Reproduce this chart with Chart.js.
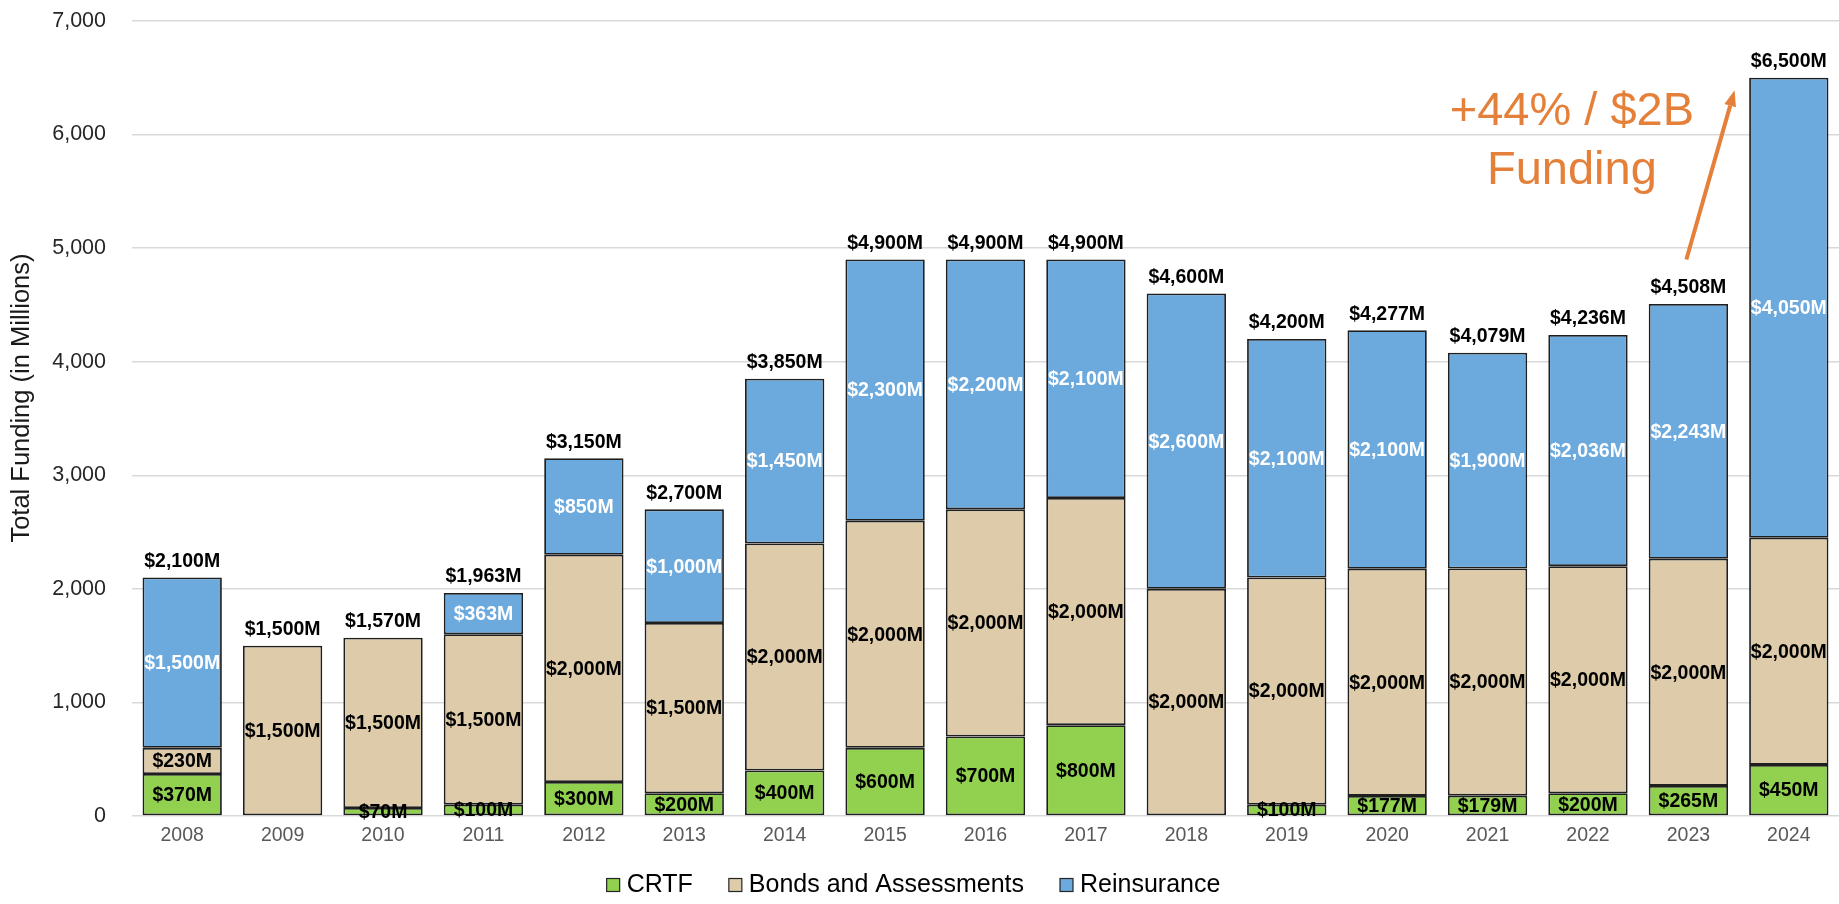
<!DOCTYPE html>
<html>
<head>
<meta charset="utf-8">
<script src="https://cdn.jsdelivr.net/npm/chart.js@4/dist/chart.umd.min.js"></script>
<style>
  html, body { margin: 0; padding: 0; background: #ffffff; }
  #wrap { width: 1839px; height: 904px; position: relative; }
</style>
</head>
<body>
<div id="wrap"><canvas id="c"></canvas></div>
<script>
// ---- Data ----
const categories = ['2008','2009','2010','2011','2012','2013','2014','2015','2016','2017','2018','2019','2020','2021','2022','2023','2024'];
const crtf        = [370, null, 70, 100, 300, 200, 400, 600, 700, 800, null, 100, 177, 179, 200, 265, 450];
const bonds       = [230, 1500, 1500, 1500, 2000, 1500, 2000, 2000, 2000, 2000, 2000, 2000, 2000, 2000, 2000, 2000, 2000];
const reinsurance = [1500, null, null, 363, 850, 1000, 1450, 2300, 2200, 2100, 2600, 2100, 2100, 1900, 2036, 2243, 4050];
const seriesNames = ['CRTF', 'Bonds and Assessments', 'Reinsurance'];
const yTickMax = 7000;
const yTickStep = 1000;
const yTitle = 'Total Funding (in Millions)';
const annotationLines = ['+44% / $2B', 'Funding'];
// annotation anchors in data coordinates (category index, value)
const annotationText = { x: 13.84, y1: 6087, y2: 5568 };
const annotationArrow = { x0: 14.98, y0: 4900, x1: 15.46, y1: 6390 };

// ---- Styles ----
const FONT = '"Liberation Sans", Arial, sans-serif';
const colors = ['#92D050', '#DDCBAA', '#6CA9DC'];
const labelColors = ['#000000', '#000000', '#FFFFFF'];
const ORANGE = '#E5803A';

const fmt = v => '$' + Number(v).toLocaleString('en-US') + 'M';

const labelPlugin = {
  id: 'labels',
  afterDatasetsDraw(chart) {
    const ctx = chart.ctx;
    const ys = chart.scales.y, xs = chart.scales.x;
    ctx.save();
    ctx.font = 'bold 19.5px ' + FONT;
    ctx.textAlign = 'center';
    ctx.textBaseline = 'middle';
    chart.data.datasets.forEach((ds, di) => {
      const meta = chart.getDatasetMeta(di);
      meta.data.forEach((el, i) => {
        const v = ds.data[i];
        if (v === null || v === undefined || v === 0) return;
        const cy = (el.y + el.base) / 2;
        ctx.fillStyle = labelColors[di];
        ctx.fillText(fmt(v), el.x, cy + 1);
      });
    });
    ctx.fillStyle = '#000000';
    categories.forEach((c, i) => {
      const total = (crtf[i] || 0) + (bonds[i] || 0) + (reinsurance[i] || 0);
      const top = ys.getPixelForValue(total);
      ctx.fillText(fmt(total), xs.getPixelForValue(i), top - 16);
    });
    ctx.restore();
  },
  afterDraw(chart) {
    const ctx = chart.ctx;
    const ys = chart.scales.y, xs = chart.scales.x;
    ctx.save();
    ctx.fillStyle = '#1a1a1a';
    ctx.font = '25.5px ' + FONT;
    ctx.textAlign = 'center';
    ctx.textBaseline = 'middle';
    ctx.translate(22, ys.getPixelForValue(3680));
    ctx.rotate(-Math.PI / 2);
    ctx.fillText(yTitle, 0, 0);
    ctx.restore();

    // legend
    ctx.save();
    ctx.font = '25px ' + FONT;
    ctx.textBaseline = 'middle';
    ctx.textAlign = 'left';
    const box = 13, gapBox = 7, gapItem = 36;
    const widths = seriesNames.map(n => ctx.measureText(n).width);
    let total = 0;
    widths.forEach((w, i) => { total += box + gapBox + w + (i < widths.length - 1 ? gapItem : 0); });
    let x = chart.width / 2 - 6 - total / 2;
    const ly = 885;
    seriesNames.forEach((n, i) => {
      ctx.fillStyle = colors[i];
      ctx.fillRect(x, ly - box / 2, box, box);
      ctx.strokeStyle = '#262626';
      ctx.lineWidth = 1.2;
      ctx.strokeRect(x, ly - box / 2, box, box);
      ctx.fillStyle = '#000000';
      ctx.fillText(n, x + box + gapBox, ly);
      x += box + gapBox + widths[i] + gapItem;
    });
    ctx.restore();

    // annotation
    ctx.save();
    ctx.fillStyle = ORANGE;
    ctx.strokeStyle = ORANGE;
    ctx.font = '47px ' + FONT;
    ctx.textAlign = 'center';
    ctx.textBaseline = 'alphabetic';
    const tx = xs.getPixelForValue(annotationText.x);
    ctx.fillText(annotationLines[0], tx, ys.getPixelForValue(annotationText.y1));
    ctx.fillText(annotationLines[1], tx, ys.getPixelForValue(annotationText.y2));
    const x0 = xs.getPixelForValue(annotationArrow.x0), y0 = ys.getPixelForValue(annotationArrow.y0);
    const x1 = xs.getPixelForValue(annotationArrow.x1), y1 = ys.getPixelForValue(annotationArrow.y1);
    const ang = Math.atan2(y1 - y0, x1 - x0);
    const headLen = 16, headW = 6;
    const bx = x1 - headLen * Math.cos(ang), by = y1 - headLen * Math.sin(ang);
    ctx.lineWidth = 4;
    ctx.beginPath();
    ctx.moveTo(x0, y0);
    ctx.lineTo(bx, by);
    ctx.stroke();
    ctx.beginPath();
    ctx.moveTo(x1, y1);
    ctx.lineTo(bx + headW * Math.sin(ang), by - headW * Math.cos(ang));
    ctx.lineTo(bx - headW * Math.sin(ang), by + headW * Math.cos(ang));
    ctx.closePath();
    ctx.fill();
    ctx.restore();
  }
};

const mkDs = (label, data, i) => ({
  label, data,
  backgroundColor: colors[i],
  borderColor: '#1f1f1f',
  borderWidth: 1.8,
  borderSkipped: false,
  barPercentage: 0.79,
  categoryPercentage: 1.0,
  stack: 's'
});

new Chart(document.getElementById('c'), {
  type: 'bar',
  data: {
    labels: categories,
    datasets: [mkDs(seriesNames[0], crtf, 0), mkDs(seriesNames[1], bonds, 1), mkDs(seriesNames[2], reinsurance, 2)]
  },
  options: {
    responsive: true,
    maintainAspectRatio: false,
    animation: false,
    layout: { autoPadding: false, padding: { top: 21, right: 0, bottom: 0, left: 0 } },
    plugins: { legend: { display: false }, tooltip: { enabled: false } },
    scales: {
      x: {
        stacked: true,
        grid: { display: false, drawTicks: false },
        border: { display: false },
        ticks: { color: '#595959', font: { family: FONT, size: 19.5 }, padding: 8, maxRotation: 0 },
        afterFit: s => { s.height = 88; s.paddingLeft = 0; s.paddingRight = 0; }
      },
      y: {
        stacked: true,
        min: 0, max: yTickMax,
        grid: { color: '#d9d9d9', lineWidth: 1.5, drawTicks: false },
        border: { display: false },
        ticks: {
          stepSize: yTickStep,
          color: '#262626',
          font: { family: FONT, size: 21.5 },
          padding: 26,
          callback: v => Number(v).toLocaleString('en-US')
        },
        afterFit: s => { s.width = 132; s.paddingTop = 0; s.paddingBottom = 0; }
      }
    }
  },
  plugins: [labelPlugin]
});
</script>
</body>
</html>
